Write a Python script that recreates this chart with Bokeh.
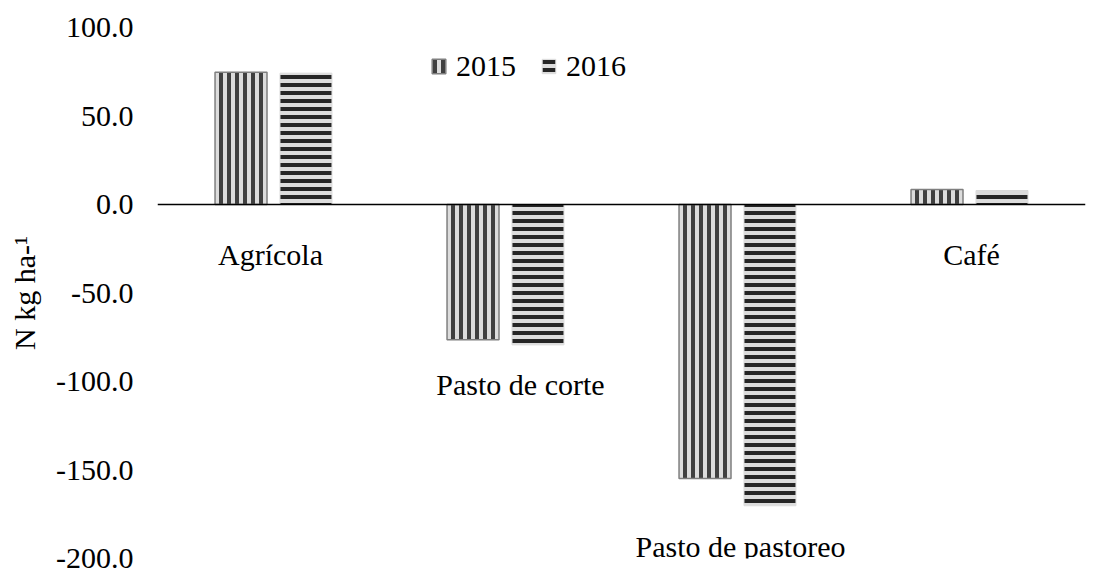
from bokeh.plotting import figure
from bokeh.models import (ColumnDataSource, FixedTicker, PrintfTickFormatter, Span,
                          Legend, LegendItem)
from bokeh.transform import dodge
from bokeh.core.properties import value
from bokeh.embed import file_html
from bokeh.resources import INLINE

# ---- data ----
categories = ["Agrícola", "Pasto de corte", "Pasto de pastoreo", "Café"]
v2015 = [74.7, -76.4, -154.8, 8.5]
v2016 = [74.2, -79.3, -170.2, 7.9]
series_names = ["2015", "2016"]
y_ticks = [-200, -150, -100, -50, 0, 50, 100]
y_title = "N kg ha-¹"

# label placement (styling, not data)
label_y = [-28.3, -101.9, -193.1, -28.3]
label_dx = [-3, 15, 3, 2]

FONT = "Liberation Serif"

src = ColumnDataSource(dict(cat=categories, v15=v2015, v16=v2016))
lab = ColumnDataSource(dict(cat=categories, y=label_y, dx=label_dx))

p = figure(x_range=categories, y_range=(-200, 100), width=1090, height=575,
           output_backend="svg", toolbar_location=None,
           min_border_left=157, min_border_right=5, min_border_top=27, min_border_bottom=17)
p.outline_line_color = None
p.xgrid.visible = False
p.ygrid.visible = False
p.xaxis.visible = False
p.background_fill_color = "white"

r1 = p.vbar(x=dodge("cat", -0.14, range=p.x_range), top="v15", width=0.224, source=src,
            fill_color="#dcdcdc", line_color="#7f7f7f", line_width=1.5,
            hatch_pattern="vertical_line", hatch_scale=8, hatch_weight=4,
            hatch_color="#404040")
r2 = p.vbar(x=dodge("cat", 0.14, range=p.x_range), top="v16", width=0.224, source=src,
            fill_color="#dcdcdc", line_color="#dcdcdc", line_width=1,
            hatch_pattern="horizontal_line", hatch_scale=8, hatch_weight=4,
            hatch_color="#262626")

p.add_layout(Span(location=0, dimension="width", line_color="black", line_width=1.5))

p.text(x="cat", y="y", x_offset="dx", text="cat", source=lab,
       text_font=value(FONT), text_font_size="30px", text_color="black",
       text_align="center", text_baseline="alphabetic")

ya = p.yaxis[0]
ya.ticker = FixedTicker(ticks=y_ticks)
ya.formatter = PrintfTickFormatter(format="%.1f")
ya.axis_line_color = None
ya.major_tick_line_color = None
ya.minor_tick_line_color = None
ya.major_tick_out = 0
ya.major_label_standoff = 24
ya.major_label_text_font = FONT
ya.major_label_text_font_size = "30px"
ya.major_label_text_color = "black"
ya.axis_label = y_title
ya.axis_label_text_font = FONT
ya.axis_label_text_font_size = "30px"
ya.axis_label_text_font_style = "normal"
ya.axis_label_text_color = "black"
ya.axis_label_standoff = 12

legend = Legend(items=[LegendItem(label=series_names[0], renderers=[r1]),
                       LegendItem(label=series_names[1], renderers=[r2])],
                orientation="horizontal", location=(273, 475),
                padding=0, margin=0, spacing=24, label_standoff=9,
                glyph_width=17, glyph_height=18,
                background_fill_alpha=0, border_line_color=None,
                label_text_font=FONT, label_text_font_size="30px",
                label_text_color="black")
p.add_layout(legend)

open("out.html", "w").write(file_html(p, INLINE))
